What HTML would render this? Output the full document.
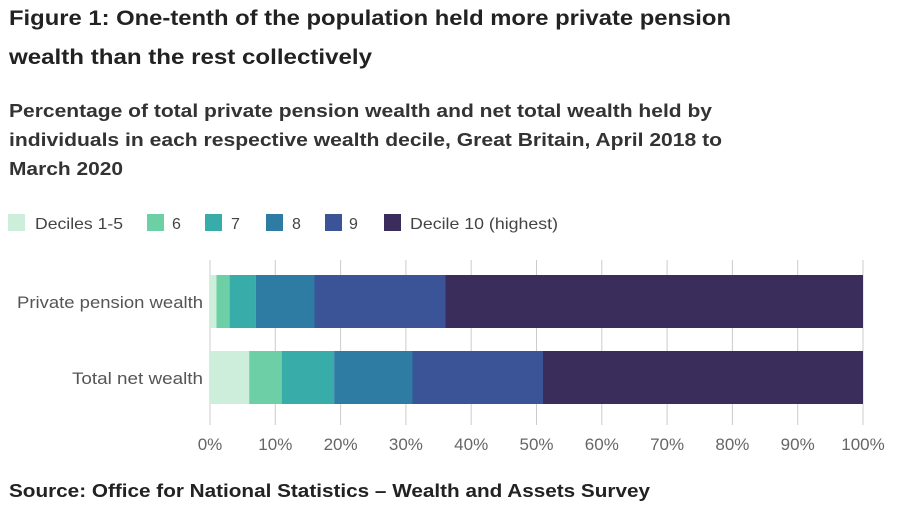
<!DOCTYPE html>
<html><head><meta charset="utf-8"><style>
body{margin:0;width:903px;height:521px;background:#fff;font-family:"Liberation Sans",sans-serif;overflow:hidden;position:relative}
</style></head><body>
<svg width="903" height="521" style="position:absolute;left:0;top:0" font-family="Liberation Sans, sans-serif">
<g font-weight="bold" fill="#222" font-size="21">
<text x="9" y="25" textLength="722" lengthAdjust="spacingAndGlyphs">Figure 1: One-tenth of the population held more private pension</text>
<text x="9" y="64" textLength="363" lengthAdjust="spacingAndGlyphs">wealth than the rest collectively</text>
</g>
<g font-weight="bold" fill="#333" font-size="18">
<text x="9" y="117" textLength="703" lengthAdjust="spacingAndGlyphs">Percentage of total private pension wealth and net total wealth held by</text>
<text x="9" y="146" textLength="713" lengthAdjust="spacingAndGlyphs">individuals in each respective wealth decile, Great Britain, April 2018 to</text>
<text x="9" y="175" textLength="114" lengthAdjust="spacingAndGlyphs">March 2020</text>
</g>
<g font-size="16" fill="#444">
<rect x="8" y="214" width="17" height="17" fill="#cdeedb"/><text x="35" y="229" textLength="88" lengthAdjust="spacingAndGlyphs">Deciles 1-5</text>
<rect x="147" y="214" width="17" height="17" fill="#6ccfa6"/><text x="172" y="229">6</text>
<rect x="205" y="214" width="17" height="17" fill="#37aca8"/><text x="231" y="229">7</text>
<rect x="266" y="214" width="17" height="17" fill="#2e7ba3"/><text x="292" y="229">8</text>
<rect x="325" y="214" width="17" height="17" fill="#3a5497"/><text x="349" y="229">9</text>
<rect x="384" y="214" width="17" height="17" fill="#3a2d5c"/><text x="410" y="229" textLength="148" lengthAdjust="spacingAndGlyphs">Decile 10 (highest)</text>
</g>
<g stroke="#ccc" stroke-width="1">
<line x1="210" y1="260" x2="210" y2="425"/><line x1="275.3" y1="260" x2="275.3" y2="425"/><line x1="340.6" y1="260" x2="340.6" y2="425"/><line x1="405.9" y1="260" x2="405.9" y2="425"/><line x1="471.2" y1="260" x2="471.2" y2="425"/><line x1="536.5" y1="260" x2="536.5" y2="425"/><line x1="601.8" y1="260" x2="601.8" y2="425"/><line x1="667.1" y1="260" x2="667.1" y2="425"/><line x1="732.4" y1="260" x2="732.4" y2="425"/><line x1="797.7" y1="260" x2="797.7" y2="425"/><line x1="863" y1="260" x2="863" y2="425"/>
</g>
<g>
<rect x="210" y="275" width="6.5" height="53" fill="#cdeedb"/>
<rect x="216.5" y="275" width="13.1" height="53" fill="#6ccfa6"/>
<rect x="229.6" y="275" width="26.1" height="53" fill="#37aca8"/>
<rect x="255.7" y="275" width="58.8" height="53" fill="#2e7ba3"/>
<rect x="314.5" y="275" width="130.6" height="53" fill="#3a5497"/>
<rect x="445.1" y="275" width="417.9" height="53" fill="#3a2d5c"/>
<rect x="210" y="351" width="39.2" height="53" fill="#cdeedb"/>
<rect x="249.2" y="351" width="32.7" height="53" fill="#6ccfa6"/>
<rect x="281.8" y="351" width="52.2" height="53" fill="#37aca8"/>
<rect x="334.1" y="351" width="78.4" height="53" fill="#2e7ba3"/>
<rect x="412.4" y="351" width="130.6" height="53" fill="#3a5497"/>
<rect x="543" y="351" width="320" height="53" fill="#3a2d5c"/>
</g>
<g font-size="17" fill="#555">
<text x="17" y="308" textLength="186" lengthAdjust="spacingAndGlyphs">Private pension wealth</text>
<text x="72" y="384" textLength="131" lengthAdjust="spacingAndGlyphs">Total net wealth</text>
</g>
<g font-size="17" fill="#666" text-anchor="middle">
<text x="210" y="450">0%</text><text x="275.3" y="450">10%</text><text x="340.6" y="450">20%</text><text x="405.9" y="450">30%</text><text x="471.2" y="450">40%</text><text x="536.5" y="450">50%</text><text x="601.8" y="450">60%</text><text x="667.1" y="450">70%</text><text x="732.4" y="450">80%</text><text x="797.7" y="450">90%</text><text x="863" y="450">100%</text>
</g>
<text x="9" y="497" font-size="18" font-weight="bold" fill="#222" textLength="641" lengthAdjust="spacingAndGlyphs">Source: Office for National Statistics – Wealth and Assets Survey</text>
</svg>
</body></html>
